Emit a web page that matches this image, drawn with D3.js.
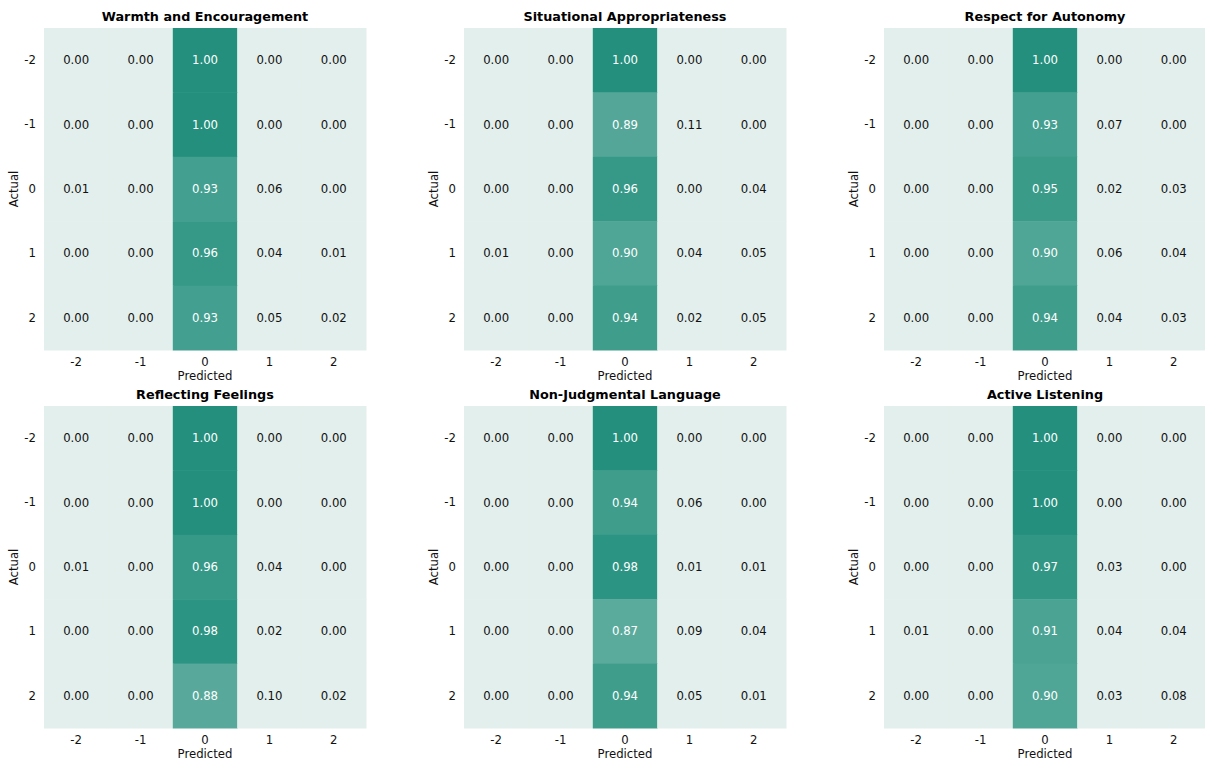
<!DOCTYPE html>
<html>
<head>
<meta charset="utf-8">
<script src="https://cdn.jsdelivr.net/npm/d3@7"></script>
<style>
  body { margin: 0; background: #fff; }
  text { font-family: "DejaVu Sans", sans-serif; }
</style>
</head>
<body>
<svg id="chart" width="1205" height="760"></svg>
<script>
// labels on both axes
const classes = ["-2", "-1", "0", "1", "2"];

const titles = [
    "Warmth and Encouragement",
    "Situational Appropriateness",
    "Respect for Autonomy",
    "Reflecting Feelings",
    "Non-Judgmental Language",
    "Active Listening"
];

// rows = actual, columns = predicted
const warmth = [
    [0.00, 0.00, 1.00, 0.00, 0.00],
    [0.00, 0.00, 1.00, 0.00, 0.00],
    [0.01, 0.00, 0.93, 0.06, 0.00],
    [0.00, 0.00, 0.96, 0.04, 0.01],
    [0.00, 0.00, 0.93, 0.05, 0.02]
];
const situational = [
    [0.00, 0.00, 1.00, 0.00, 0.00],
    [0.00, 0.00, 0.89, 0.11, 0.00],
    [0.00, 0.00, 0.96, 0.00, 0.04],
    [0.01, 0.00, 0.90, 0.04, 0.05],
    [0.00, 0.00, 0.94, 0.02, 0.05]
];
const autonomy = [
    [0.00, 0.00, 1.00, 0.00, 0.00],
    [0.00, 0.00, 0.93, 0.07, 0.00],
    [0.00, 0.00, 0.95, 0.02, 0.03],
    [0.00, 0.00, 0.90, 0.06, 0.04],
    [0.00, 0.00, 0.94, 0.04, 0.03]
];
const feelings = [
    [0.00, 0.00, 1.00, 0.00, 0.00],
    [0.00, 0.00, 1.00, 0.00, 0.00],
    [0.01, 0.00, 0.96, 0.04, 0.00],
    [0.00, 0.00, 0.98, 0.02, 0.00],
    [0.00, 0.00, 0.88, 0.10, 0.02]
];
const nonJudgmental = [
    [0.00, 0.00, 1.00, 0.00, 0.00],
    [0.00, 0.00, 0.94, 0.06, 0.00],
    [0.00, 0.00, 0.98, 0.01, 0.01],
    [0.00, 0.00, 0.87, 0.09, 0.04],
    [0.00, 0.00, 0.94, 0.05, 0.01]
];
const listening = [
    [0.00, 0.00, 1.00, 0.00, 0.00],
    [0.00, 0.00, 1.00, 0.00, 0.00],
    [0.00, 0.00, 0.97, 0.03, 0.00],
    [0.01, 0.00, 0.91, 0.04, 0.04],
    [0.00, 0.00, 0.90, 0.03, 0.08]
];

const matrices = [warmth, situational, autonomy, feelings, nonJudgmental, listening];

const svg = d3.select("#chart");
const size = 322;
const lefts = [44, 464, 884];
const tops = [28, 406];

const color = d3.scalePow().exponent(2.5)
    .domain([0, 1])
    .range(["#e3efec", "#238f7c"])
    .interpolate(d3.interpolateRgb);

const x = d3.scaleBand().domain(classes).range([0, size]);
const y = d3.scaleBand().domain(classes).range([0, size]);

matrices.forEach(function(m, i) {
    let g = svg.append("g")
        .attr("transform", "translate(" + lefts[i % 3] + "," + tops[Math.floor(i / 3)] + ")");

    let cells = [];
    m.forEach(function(row, r) {
        row.forEach(function(v, c) {
            cells.push({ actual: classes[r], pred: classes[c], v: v });
        });
    });

    g.selectAll("rect")
        .data(cells)
        .enter()
        .append("rect")
        .attr("x", d => x(d.pred))
        .attr("y", d => y(d.actual))
        .attr("width", x.bandwidth() + 0.5)
        .attr("height", y.bandwidth() + 0.5)
        .attr("fill", d => color(d.v));

    g.selectAll("text.val")
        .data(cells)
        .enter()
        .append("text")
        .attr("class", "val")
        .attr("x", d => x(d.pred) + x.bandwidth() / 2)
        .attr("y", d => y(d.actual) + y.bandwidth() / 2)
        .attr("text-anchor", "middle")
        .attr("dominant-baseline", "central")
        .attr("font-size", 11.7)
        .attr("fill", d => d.v > 0.5 ? "#ffffff" : "#111")
        .text(d => d.v.toFixed(2));

    let xAxis = g.append("g")
        .attr("transform", "translate(0," + size + ")")
        .call(d3.axisBottom(x).tickSize(0).tickPadding(8));
    let yAxis = g.append("g")
        .call(d3.axisLeft(y).tickSize(0).tickPadding(8));
    [xAxis, yAxis].forEach(function(a) {
        a.select(".domain").remove();
        a.selectAll("text")
            .attr("font-family", "DejaVu Sans, sans-serif")
            .attr("font-size", 11.7)
            .attr("fill", "#111");
    });

    g.append("text")
        .attr("x", size / 2)
        .attr("y", size + 30)
        .attr("text-anchor", "middle")
        .attr("font-size", 11.7)
        .attr("fill", "#111")
        .text("Predicted");

    g.append("text")
        .attr("transform", "translate(-26," + size / 2 + ") rotate(-90)")
        .attr("text-anchor", "middle")
        .attr("font-size", 11.7)
        .attr("fill", "#111")
        .text("Actual");

    g.append("text")
        .attr("x", size / 2)
        .attr("y", -7)
        .attr("text-anchor", "middle")
        .attr("font-size", 12.8)
        .attr("font-weight", "bold")
        .attr("fill", "#000")
        .text(titles[i]);
});
</script>
</body>
</html>
